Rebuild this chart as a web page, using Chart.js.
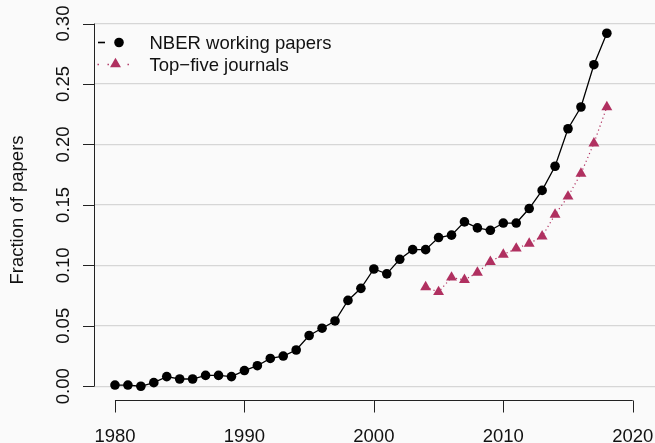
<!DOCTYPE html>
<html>
<head>
<meta charset="utf-8">
<script src="https://cdn.jsdelivr.net/npm/chart.js@4.4.0/dist/chart.umd.min.js"></script>
<style>
    html, body { margin: 0; padding: 0; background: #fafafa; }
    canvas { display: block; }
</style>
</head>
<body>
<canvas id="chartPapers" width="655" height="443"></canvas>
<script>
var nberYears = [1980, 1981, 1982, 1983, 1984, 1985, 1986, 1987, 1988, 1989,
    1990, 1991, 1992, 1993, 1994, 1995, 1996, 1997, 1998, 1999,
    2000, 2001, 2002, 2003, 2004, 2005, 2006, 2007, 2008, 2009,
    2010, 2011, 2012, 2013, 2014, 2015, 2016, 2017, 2018];
var nberValues = [0.001, 0.001, 0.000, 0.003, 0.008, 0.006, 0.006, 0.009, 0.009, 0.008,
    0.013, 0.017, 0.023, 0.025, 0.030, 0.042, 0.048, 0.054, 0.071, 0.081,
    0.097, 0.093, 0.105, 0.113, 0.113, 0.123, 0.125, 0.136, 0.131, 0.129,
    0.135, 0.135, 0.147, 0.162, 0.182, 0.213, 0.231, 0.266, 0.292];
var journalYears = [2004, 2005, 2006, 2007, 2008, 2009, 2010, 2011, 2012, 2013,
    2014, 2015, 2016, 2017, 2018];
var journalValues = [0.082, 0.078, 0.090, 0.088, 0.094, 0.103, 0.109, 0.114, 0.118, 0.124,
    0.142, 0.157, 0.176, 0.201, 0.231];
var seriesLabels = ["NBER working papers", "Top\u2212five journals"];
var xTicks = [1980, 1990, 2000, 2010, 2020];
var yTicks = [0.00, 0.05, 0.10, 0.15, 0.20, 0.25, 0.30];
var yTickLabels = ["0.00", "0.05", "0.10", "0.15", "0.20", "0.25", "0.30"];
var yTitle = "Fraction of papers";

var FONT = '18.5px "Liberation Sans", Arial, Helvetica, sans-serif';
var MAROON = "#B03060";

function toPoints(xs, ys) {
    return xs.map(function (x, i) { return { x: x, y: ys[i] }; });
}

// base-R style axes, axis title and legend
var rAxesPlugin = {
    id: 'rAxes',
    afterDraw: function (chart) {
        var ctx = chart.ctx;
        var xs = chart.scales.x;
        var ys = chart.scales.y;
        var area = chart.chartArea;
        ctx.save();
        ctx.strokeStyle = "#222";
        ctx.fillStyle = "#111";
        ctx.lineWidth = 1;
        ctx.font = FONT;

        // y axis
        var yTop = ys.getPixelForValue(yTicks[yTicks.length - 1]);
        var yBot = ys.getPixelForValue(yTicks[0]);
        ctx.beginPath();
        ctx.moveTo(area.left + 0.5, yTop);
        ctx.lineTo(area.left + 0.5, yBot);
        yTicks.forEach(function (v) {
            var py = Math.round(ys.getPixelForValue(v)) + 0.5;
            ctx.moveTo(area.left + 0.5, py);
            ctx.lineTo(area.left - 11, py);
        });
        ctx.stroke();
        ctx.textAlign = "center";
        ctx.textBaseline = "alphabetic";
        yTicks.forEach(function (v, i) {
            ctx.save();
            ctx.translate(68.5, ys.getPixelForValue(v));
            ctx.rotate(-Math.PI / 2);
            ctx.fillText(yTickLabels[i], 0, 0);
            ctx.restore();
        });

        // x axis
        var xl = xs.getPixelForValue(xTicks[0]);
        var xr = xs.getPixelForValue(xTicks[xTicks.length - 1]);
        var ay = Math.round(area.bottom) + 0.5;
        ctx.beginPath();
        ctx.moveTo(xl, ay);
        ctx.lineTo(xr, ay);
        xTicks.forEach(function (v) {
            var px = Math.round(xs.getPixelForValue(v)) + 0.5;
            ctx.moveTo(px, ay);
            ctx.lineTo(px, ay + 12);
        });
        ctx.stroke();
        xTicks.forEach(function (v) {
            ctx.fillText(String(v), xs.getPixelForValue(v), 441.7);
        });

        // axis title
        ctx.save();
        ctx.translate(22.7, (area.top + area.bottom) / 2);
        ctx.rotate(-Math.PI / 2);
        ctx.fillText(yTitle, 0, 0);
        ctx.restore();

        // legend
        ctx.textAlign = "left";
        ctx.fillStyle = "#111";
        ctx.fillText(seriesLabels[0], 149.5, 49);
        ctx.fillText(seriesLabels[1], 149.5, 70.7);

        ctx.strokeStyle = "#000";
        ctx.lineWidth = 1.6;
        ctx.beginPath();
        ctx.moveTo(98, 42.5);
        ctx.lineTo(105, 42.5);
        ctx.stroke();
        ctx.fillStyle = "#000";
        ctx.beginPath();
        ctx.arc(119, 42.5, 4.8, 0, Math.PI * 2);
        ctx.fill();

        ctx.strokeStyle = MAROON;
        ctx.lineWidth = 1.4;
        ctx.setLineDash([1.4, 8.6]);
        ctx.beginPath();
        ctx.moveTo(97.5, 64.5);
        ctx.lineTo(130, 64.5);
        ctx.stroke();
        ctx.setLineDash([]);
        ctx.fillStyle = MAROON;
        var r = 6.3, cx = 115.5, cy = 64;
        ctx.beginPath();
        ctx.moveTo(cx, cy - r);
        ctx.lineTo(cx + r * 0.866, cy + r / 2);
        ctx.lineTo(cx - r * 0.866, cy + r / 2);
        ctx.closePath();
        ctx.fill();
        ctx.restore();
    }
};

function drawPapersChart() {
    var ctxPapers = document.getElementById("chartPapers");
    var chartPapers = new Chart(ctxPapers, {
        type: 'line',
        data: {
            datasets: [{
                label: seriesLabels[0],
                data: toPoints(nberYears, nberValues),
                borderColor: "#000",
                borderWidth: 1.3,
                pointRadius: 4.8,
                pointBackgroundColor: "#000",
                pointBorderWidth: 0,
                tension: 0
            }, {
                label: seriesLabels[1],
                data: toPoints(journalYears, journalValues),
                borderColor: MAROON,
                borderWidth: 1.2,
                borderDash: [1.2, 3],
                pointStyle: 'triangle',
                pointRadius: 6.3,
                pointBackgroundColor: MAROON,
                pointBorderWidth: 0,
                tension: 0
            }]
        },
        options: {
            responsive: false,
            animation: false,
            layout: {
                autoPadding: false,
                padding: { left: 94, right: 0, top: 19.6, bottom: 42.6 }
            },
            plugins: {
                legend: { display: false },
                tooltip: { enabled: false }
            },
            scales: {
                x: { type: 'linear', min: 1978.38, max: 2021.72, display: false },
                y: {
                    type: 'linear',
                    min: -0.0117,
                    max: 0.3033,
                    ticks: { display: false },
                    border: { display: false },
                    grid: { color: "#d6d6d6", lineWidth: 1.3, drawTicks: false },
                    afterBuildTicks: function (scale) {
                        scale.ticks = yTicks.map(function (v) { return { value: v }; });
                    }
                }
            }
        },
        plugins: [rAxesPlugin]
    });
}

drawPapersChart();
</script>
</body>
</html>
